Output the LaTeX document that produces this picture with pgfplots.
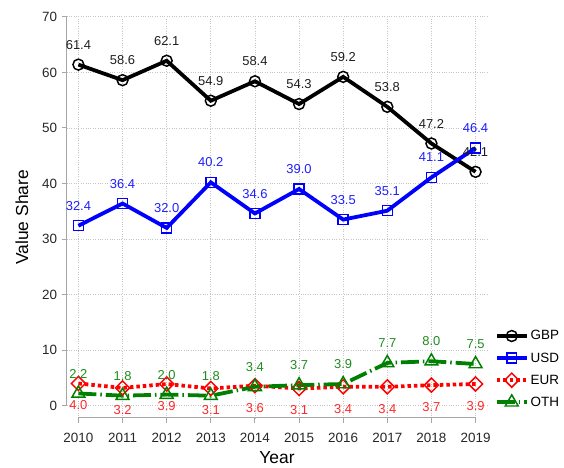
\documentclass[border=0pt]{standalone}
\usepackage{pgfplots}
\pgfplotsset{compat=1.18}
\usepackage{fontspec}
\setmainfont{Liberation Sans}
\definecolor{cgbp}{RGB}{0,0,0}
\definecolor{cusd}{RGB}{0,0,255}
\definecolor{ceur}{RGB}{255,0,0}
\definecolor{coth}{RGB}{0,128,0}
\definecolor{tgbp}{RGB}{30,30,30}
\definecolor{tusd}{RGB}{30,30,255}
\definecolor{teur}{RGB}{255,40,40}
\definecolor{toth}{RGB}{30,140,30}
\begin{document}
\begin{tikzpicture}
\begin{axis}[
  scale only axis, width=423pt, height=403pt,
  xmin=2009.73, xmax=2019.27, ymin=-2.2, ymax=70,
  axis x line*=bottom, axis y line*=left,
  x axis line style={gray!70, line width=1pt, shorten <=12pt, shorten >=12pt},
  y axis line style={gray!70, line width=1pt, shorten <=12.3pt},
  tick align=outside, major tick length=5pt,
  major tick style={gray!70, line width=1pt},
  xtick={2010,2011,...,2019}, ytick={0,10,...,70},
  /pgf/number format/1000 sep={},
  /pgf/number format/assume math mode=true,
  tick label style={font=\fontsize{13.5}{15}\selectfont, text=black!85},
  xticklabel style={yshift=-7pt},
  yticklabel style={xshift=-1pt},
  grid=major, grid style={gray!45, dotted, line width=0.7pt},
  xlabel={Year}, ylabel={Value Share},
  label style={font=\fontsize{17.5}{20}\selectfont},
  xlabel style={yshift=-2pt},
  ylabel style={yshift=7pt},
  clip=false,
  legend style={at={(rel axis cs:1.01,0.015)}, anchor=south west, draw=none, fill=none,
    font=\fontsize{13.5}{15}\selectfont, row sep=7.3pt},
  legend cell align=left,
  legend image code/.code={\draw[mark repeat=2,mark phase=2,#1] plot coordinates {(0cm,0cm) (0.53cm,0cm) (1.06cm,0cm)};},
  nodes near coords={\pgfmathprintnumber[fixed,fixed zerofill,precision=1]{\pgfplotspointmeta}},
  every node near coord/.append style={font=\fontsize{13}{15}\selectfont, anchor=center},
]
\addplot[cgbp, line width=3.8pt, mark=o, mark size=5.5pt, mark options={solid, fill=white, line width=1.5pt},
  every node near coord/.append style={text=tgbp, yshift=20pt}] coordinates {
 (2010,61.4) (2011,58.6) (2012,62.1) (2013,54.9) (2014,58.4) (2015,54.3) (2016,59.2) (2017,53.8) (2018,47.2) (2019,42.1)};
\addlegendentry{GBP}
\addplot[cusd, line width=3.8pt, mark=square, mark size=5pt, mark options={solid, fill=white, line width=1.5pt},
  every node near coord/.append style={text=tusd, yshift=20pt}] coordinates {
 (2010,32.4) (2011,36.4) (2012,32.0) (2013,40.2) (2014,34.6) (2015,39.0) (2016,33.5) (2017,35.1) (2018,41.1) (2019,46.4)};
\addlegendentry{USD}
\addplot[ceur, line width=3.8pt, dash pattern=on 3.5pt off 3pt, mark=square, mark size=5pt, mark options={solid, rotate=45, fill=white, line width=1.5pt},
  every node near coord/.append style={text=teur, yshift=-22pt}] coordinates {
 (2010,4.0) (2011,3.2) (2012,3.9) (2013,3.1) (2014,3.6) (2015,3.1) (2016,3.4) (2017,3.4) (2018,3.7) (2019,3.9)};
\addlegendentry{EUR}
\addplot[coth, line width=3.8pt, dash pattern=on 18pt off 4pt on 1.5pt off 4pt, mark=triangle, mark size=7.5pt, mark options={solid, fill=white, line width=1.5pt},
  every node near coord/.append style={text=toth, yshift=20pt}] coordinates {
 (2010,2.2) (2011,1.8) (2012,2.0) (2013,1.8) (2014,3.4) (2015,3.7) (2016,3.9) (2017,7.7) (2018,8.0) (2019,7.5)};
\addlegendentry{OTH}
\path (rel axis cs:-0.158,-0.1166) rectangle (rel axis cs:1.175,1.042);
\end{axis}
\end{tikzpicture}
\end{document}
